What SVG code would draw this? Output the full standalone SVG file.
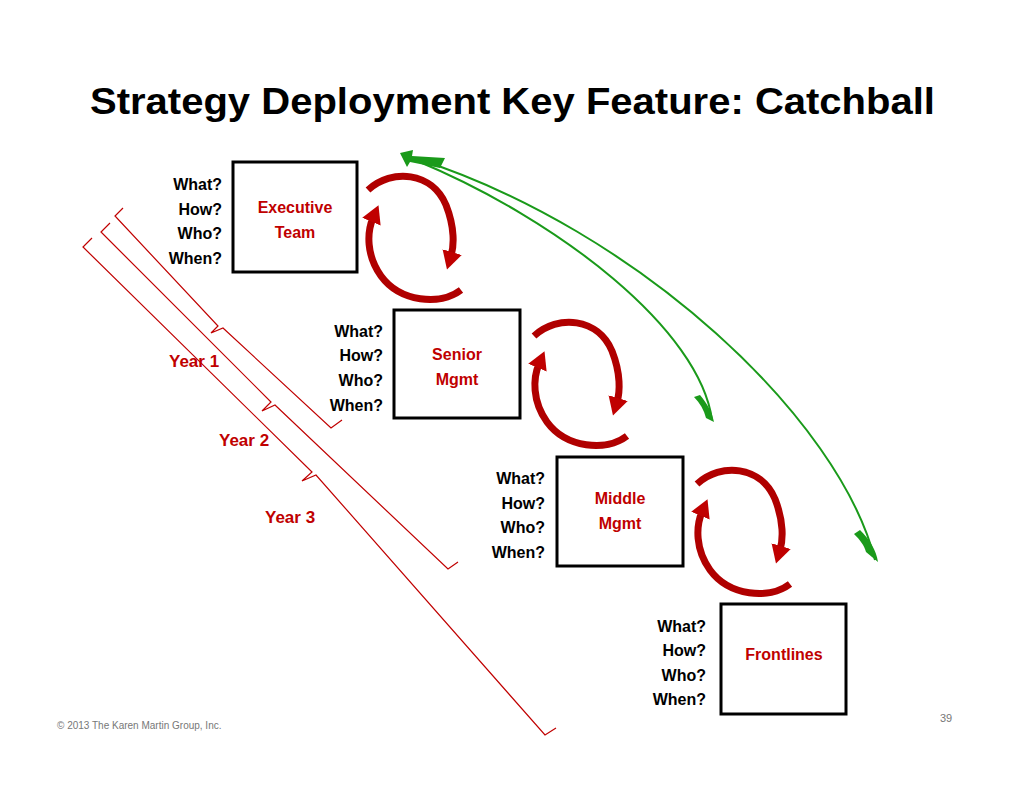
<svg xmlns="http://www.w3.org/2000/svg" width="1024" height="792" viewBox="0 0 1024 792">
<defs>
<style>
.q{font-family:"Liberation Sans",Arial,sans-serif;font-weight:bold;font-size:16px;fill:#000;text-anchor:end}
.l{font-family:"Liberation Sans",Arial,sans-serif;font-weight:bold;font-size:16px;fill:#c00000;text-anchor:middle}
.y{font-family:"Liberation Sans",Arial,sans-serif;font-weight:bold;font-size:17px;fill:#c00000}
.box{fill:#fff;stroke:#000;stroke-width:3}
.br{fill:none;stroke:#c00000;stroke-width:1.2}
.ra{fill:none;stroke:#b00000;stroke-width:7;marker-end:url(#rh)}
.gl{fill:none;stroke:#1a9a1a;stroke-width:2}
</style>
<marker id="rh" markerUnits="userSpaceOnUse" markerWidth="22" markerHeight="22" refX="4" refY="11" orient="auto"><path d="M0,1 L18,11 L0,21 Z" fill="#c00000"/></marker>
<g id="pair">
<path class="ra" d="M368,190 C392,168 432,172 446,205 C455,228 454,246 451,256"/>
<path class="ra" d="M461,290 C440,306 400,302 381,276 C366,255 367,232 373,218"/>
</g>
</defs>
<rect width="1024" height="792" fill="#fff"/>
<text x="90" y="114" font-family="Liberation Sans,Arial,sans-serif" font-weight="bold" font-size="37" textLength="845" lengthAdjust="spacingAndGlyphs">Strategy Deployment Key Feature: Catchball</text>
<g id="connectors">
<path class="br" d="M123,208 L115,216 L218,326 L211,333 L223,328 L331,428 L342,420"/>
<path class="br" d="M110,223 L101,232 L271,402 L262,411 L275,405 L448,569 L458,562"/>
<path class="br" d="M92,238 L83,247 L312,472 L302,481 L316,475 L545,735 L556,728"/>
<use href="#pair"/>
<use href="#pair" transform="translate(166,146)"/>
<use href="#pair" transform="translate(329,294)"/>
<path class="gl" d="M712,420 C700,330 560,220 415,160"/>
<path class="gl" stroke-width="3" d="M875,560 C840,420 640,230 415,158"/>
<path d="M700,395 C708,405 712,412 714,422 L706,418 C704,410 700,403 694,397 Z" fill="#1a9a1a"/>
<path d="M860,530 C870,540 876,550 878,562 L866,552 C864,545 860,540 854,534 Z" fill="#1a9a1a"/>
<path d="M400,153 L407,167 L410,162 L440,168 L445,158 L412,156 L413,150 Z" fill="#1a9a1a"/>
</g>
<g id="exec"><rect class="box" x="233" y="162" width="124" height="110"/><text class="l" x="295" y="213">Executive</text><text class="l" x="295" y="238">Team</text>
<text class="q" x="222" y="190">What?</text><text class="q" x="222" y="215">How?</text><text class="q" x="222" y="239">Who?</text><text class="q" x="222" y="264">When?</text></g>
<g id="senior"><rect class="box" x="394" y="310" width="126" height="108"/><text class="l" x="457" y="360">Senior</text><text class="l" x="457" y="385">Mgmt</text>
<text class="q" x="383" y="337">What?</text><text class="q" x="383" y="361">How?</text><text class="q" x="383" y="386">Who?</text><text class="q" x="383" y="411">When?</text></g>
<g id="middle"><rect class="box" x="557" y="457" width="126" height="109"/><text class="l" x="620" y="504">Middle</text><text class="l" x="620" y="529">Mgmt</text>
<text class="q" x="545" y="484">What?</text><text class="q" x="545" y="509">How?</text><text class="q" x="545" y="533">Who?</text><text class="q" x="545" y="558">When?</text></g>
<g id="front"><rect class="box" x="721" y="604" width="125" height="110"/><text class="l" x="784" y="660">Frontlines</text>
<text class="q" x="706" y="632">What?</text><text class="q" x="706" y="656">How?</text><text class="q" x="706" y="681">Who?</text><text class="q" x="706" y="705">When?</text></g>
<text class="y" x="169" y="367">Year 1</text>
<text class="y" x="219" y="446">Year 2</text>
<text class="y" x="265" y="523">Year 3</text>
<text x="57" y="729" font-family="Liberation Sans,Arial,sans-serif" font-size="10" fill="#777">© 2013 The Karen Martin Group, Inc.</text>
<text x="940" y="722" font-family="Liberation Sans,Arial,sans-serif" font-size="11" fill="#777">39</text>
</svg>
